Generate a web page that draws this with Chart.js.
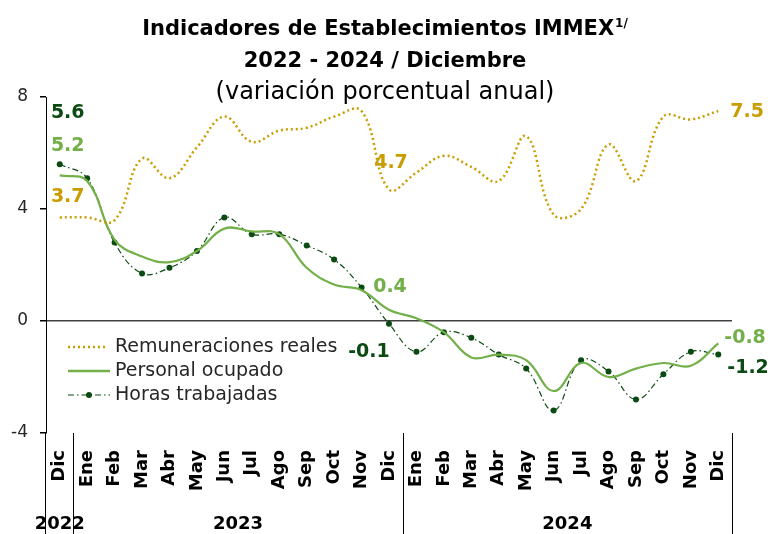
<!DOCTYPE html>
<html><head><meta charset="utf-8">
<script src="https://cdn.jsdelivr.net/npm/chart.js@4/dist/chart.umd.min.js"></script>
<style>html,body{margin:0;padding:0;background:#fff}#wrap{width:768px;height:534px;position:relative}</style>
</head><body><div id="wrap"><canvas id="c"></canvas></div>
<script>
// ---- data ----
const months = ['Dic','Ene','Feb','Mar','Abr','May','Jun','Jul','Ago','Sep','Oct','Nov','Dic',
                'Ene','Feb','Mar','Abr','May','Jun','Jul','Ago','Sep','Oct','Nov','Dic'];
const yearLabels = ['2022','2023','2024'];
const yearMonthCounts = [1, 12, 12];
const remuneraciones = [3.7,3.7,3.6,5.8,5.1,6.2,7.3,6.4,6.8,6.9,7.3,7.5,4.7,
                        5.3,5.9,5.5,5.0,6.6,3.8,4.0,6.3,5.0,7.3,7.2,7.5];
const personal = [5.2,5.0,2.9,2.3,2.1,2.5,3.3,3.2,3.1,1.9,1.3,1.1,0.4,
                  0.1,-0.4,-1.3,-1.2,-1.4,-2.5,-1.5,-2.0,-1.7,-1.5,-1.6,-0.8];
const horas = [5.6,5.1,2.8,1.7,1.9,2.5,3.7,3.1,3.1,2.7,2.2,1.2,-0.1,
               -1.1,-0.4,-0.6,-1.2,-1.7,-3.2,-1.4,-1.8,-2.8,-1.9,-1.1,-1.2];
const yTickValues = [-4, 0, 4, 8];
const seriesNames = ['Remuneraciones reales','Personal ocupado','Horas trabajadas'];
const titleLines = ['Indicadores de Establecimientos IMMEX','2022 - 2024 / Diciembre','(variación porcentual anual)'];
const titleNote = '1/';

// ---- styles ----
const FONT = "'DejaVu Sans', sans-serif";
const GOLD = '#C99C00', LGREEN = '#74B04A', DGREEN = '#0B4A12';

const decor = {
  id: 'decor',
  afterDraw(chart) {
    const {ctx, chartArea: ca, scales: {x, y}} = chart;
    const H = chart.height;
    ctx.save();
    // title
    ctx.fillStyle = '#000';
    ctx.textBaseline = 'middle';
    ctx.font = `bold 21px ${FONT}`;
    const w1 = ctx.measureText(titleLines[0]).width;
    ctx.font = `bold 12px ${FONT}`;
    const wn = ctx.measureText(titleNote).width;
    const sx = 385 - (w1 + wn + 1) / 2;
    ctx.textAlign = 'left';
    ctx.font = `bold 21px ${FONT}`;
    ctx.fillText(titleLines[0], sx, 30);
    ctx.font = `bold 12px ${FONT}`;
    ctx.fillText(titleNote, sx + w1 + 1, 24);
    ctx.textAlign = 'center';
    ctx.font = `bold 21px ${FONT}`;
    ctx.fillText(titleLines[1], 385, 62);
    ctx.font = `24px ${FONT}`;
    ctx.fillText(titleLines[2], 385, 93);

    // separators and year labels
    ctx.strokeStyle = '#000'; ctx.lineWidth = 1;
    const vline = (px, y0, y1) => { ctx.beginPath(); ctx.moveTo(Math.round(px) + 0.5, y0); ctx.lineTo(Math.round(px) + 0.5, y1); ctx.stroke(); };
    vline(ca.left - 1, ca.bottom, H);
    let idx = 0;
    yearLabels.forEach((yr, g) => {
      const start = idx, end = idx + yearMonthCounts[g] - 1;
      const left = start === 0 ? ca.left : (x.getPixelForTick(start - 1) + x.getPixelForTick(start)) / 2;
      const right = end === months.length - 1 ? ca.right : (x.getPixelForTick(end) + x.getPixelForTick(end + 1)) / 2;
      vline(right, ca.bottom, H);
      ctx.font = `bold 18px ${FONT}`; ctx.fillStyle = '#000';
      ctx.textAlign = 'center'; ctx.textBaseline = 'middle';
      ctx.fillText(yr, (left + right) / 2, H - 10);
      idx = end + 1;
    });

    // data labels
    const last = months.length - 1, mid = 12;
    const lab = (arr, i, color, dx, dy, align) => {
      const px = x.getPixelForValue(i), py = y.getPixelForValue(arr[i]);
      ctx.font = `bold 19px ${FONT}`; ctx.fillStyle = color;
      ctx.textAlign = align; ctx.textBaseline = 'middle';
      ctx.fillText(arr[i].toFixed(1), px + dx, py + dy);
    };
    lab(horas, 0, DGREEN, 8, -51, 'center');
    lab(personal, 0, LGREEN, 8, -29, 'center');
    lab(remuneraciones, 0, GOLD, 8, -20, 'center');
    lab(remuneraciones, mid, GOLD, 2, -26, 'center');
    lab(personal, mid, LGREEN, 1, -23, 'center');
    lab(horas, mid, DGREEN, -20, 28, 'center');
    lab(remuneraciones, last, GOLD, 12, 1, 'left');
    lab(personal, last, LGREEN, 6, -5, 'left');
    lab(horas, last, DGREEN, 9, 13, 'left');

    // legend
    const lx0 = 68, lx1 = 110, tx = 115, ys = [347, 371, 395];
    ctx.font = `19px ${FONT}`; ctx.textAlign = 'left'; ctx.textBaseline = 'middle';
    ctx.fillStyle = '#262626';
    seriesNames.forEach((n, k) => ctx.fillText(n, tx, ys[k]));
    ctx.lineWidth = 2.5; ctx.strokeStyle = GOLD; ctx.setLineDash([2, 3]);
    ctx.beginPath(); ctx.moveTo(lx0, ys[0]); ctx.lineTo(lx1 - 5, ys[0]); ctx.stroke();
    ctx.lineWidth = 2.5; ctx.strokeStyle = LGREEN; ctx.setLineDash([]);
    ctx.beginPath(); ctx.moveTo(lx0, ys[1]); ctx.lineTo(lx1, ys[1]); ctx.stroke();
    ctx.lineWidth = 1.2; ctx.strokeStyle = DGREEN; ctx.setLineDash([6, 3, 1.5, 3]);
    ctx.beginPath(); ctx.moveTo(lx0, ys[2]); ctx.lineTo(lx1, ys[2]); ctx.stroke();
    ctx.setLineDash([]); ctx.fillStyle = DGREEN;
    ctx.beginPath(); ctx.arc((lx0 + lx1) / 2, ys[2], 3, 0, Math.PI * 2); ctx.fill();
    ctx.restore();
  }
};

new Chart(document.getElementById('c'), {
  type: 'line',
  data: {
    labels: months,
    datasets: [
      { label: seriesNames[0], data: remuneraciones, borderColor: GOLD, borderWidth: 2.5,
        borderDash: [2, 3], pointRadius: 0, tension: 0.4, fill: false },
      { label: seriesNames[1], data: personal, borderColor: LGREEN, borderWidth: 2.2,
        pointRadius: 0, tension: 0.4, fill: false },
      { label: seriesNames[2], data: horas, borderColor: DGREEN, borderWidth: 1.2,
        borderDash: [6, 3, 1.5, 3], pointRadius: 3, pointBackgroundColor: DGREEN,
        pointBorderWidth: 0, tension: 0.4, fill: false }
    ]
  },
  options: {
    responsive: true, maintainAspectRatio: false, animation: false,
    layout: { padding: { top: 97, right: 36, left: 0, bottom: 0 } },
    plugins: { legend: { display: false }, title: { display: false }, tooltip: { enabled: false } },
    scales: {
      x: {
        offset: true,
        grid: { display: false, drawTicks: false, offset: true },
        border: { display: false },
        ticks: { autoSkip: false, maxRotation: 90, minRotation: 90, padding: 17,
                 color: '#000', font: { family: FONT, size: 18, weight: 'bold' } },
        afterFit: s => { s.height = 101; }
      },
      y: {
        min: -4, max: 8,
        afterBuildTicks: s => { s.ticks = yTickValues.map(v => ({ value: v })); },
        grid: { color: c => (c.tick && c.tick.value === 0) ? '#404040' : 'rgba(0,0,0,0)',
                lineWidth: 1.5, tickColor: '#000', tickLength: 6, drawTicks: true },
        border: { display: true, color: '#000', width: 1 },
        ticks: { padding: 12, color: '#262626', font: { family: FONT, size: 17 } },
        afterFit: s => { s.width = 46; }
      }
    }
  },
  plugins: [decor]
});
</script>
</body></html>
